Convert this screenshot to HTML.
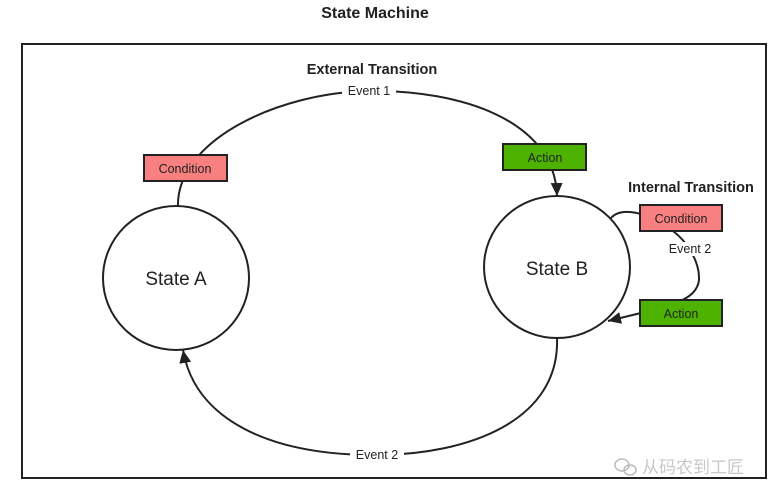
<!DOCTYPE html>
<html><head><style>body{margin:0;background:#fff}svg{display:block}</style></head><body>
<svg width="782" height="503" viewBox="0 0 782 503" xmlns="http://www.w3.org/2000/svg" font-family="Liberation Sans, sans-serif">
<defs><marker id="b" markerWidth="14" markerHeight="14" refX="13" refY="6" orient="auto" markerUnits="userSpaceOnUse"><path d="M0,0 L13,6 L0,12 Z" fill="#222"/></marker></defs>
<text x="375" y="18" font-size="16" font-weight="bold" text-anchor="middle" fill="#222">State Machine</text>
<rect x="22" y="44" width="744" height="434" fill="none" stroke="#222" stroke-width="2"/>
<text x="372" y="74" font-size="14.5" font-weight="bold" text-anchor="middle" fill="#222">External Transition</text>
<text x="691" y="192" font-size="14.5" font-weight="bold" text-anchor="middle" fill="#222">Internal Transition</text>
<path d="M178,208 C175,140 280,92 370,91 C460,90 555,120 557,196" fill="none" stroke="#222" stroke-width="2" marker-end="url(#b)"/>
<path d="M557,338 C560,420 470,455 375,455 C270,455 195,420 183,350" fill="none" stroke="#222" stroke-width="2" marker-end="url(#b)"/>
<rect x="342" y="84" width="54" height="14" fill="#fff"/>
<text x="369" y="95" font-size="12.5" text-anchor="middle" fill="#222">Event 1</text>
<rect x="350" y="448" width="54" height="14" fill="#fff"/>
<text x="377" y="459" font-size="12.5" text-anchor="middle" fill="#222">Event 2</text>
<ellipse cx="176" cy="278" rx="73" ry="72" fill="#fff" stroke="#222" stroke-width="2"/>
<ellipse cx="557" cy="267" rx="73" ry="71" fill="#fff" stroke="#222" stroke-width="2"/>
<text x="176" y="285" font-size="19" text-anchor="middle" fill="#222">State A</text>
<text x="557" y="275" font-size="19" text-anchor="middle" fill="#222">State B</text>
<rect x="144" y="155" width="83" height="26" fill="#f88080" stroke="#222" stroke-width="2"/>
<text x="185" y="173" font-size="12.5" text-anchor="middle" fill="#222">Condition</text>
<rect x="503" y="144" width="83" height="26" fill="#4db300" stroke="#222" stroke-width="2"/>
<text x="545" y="162" font-size="12.5" text-anchor="middle" fill="#222">Action</text>
<path d="M611,218 C618,210 630,211 641,214" fill="none" stroke="#222" stroke-width="2"/>
<path d="M673,231 C685,240 700,260 699,280 C698,290 690,297 680,301" fill="none" stroke="#222" stroke-width="2"/>
<rect x="664" y="242" width="54" height="14" fill="#fff"/>
<text x="690" y="253" font-size="12.5" text-anchor="middle" fill="#222">Event 2</text>
<path d="M641,313 L608,321" fill="none" stroke="#222" stroke-width="2" marker-end="url(#b)"/>
<rect x="640" y="205" width="82" height="26" fill="#f88080" stroke="#222" stroke-width="2"/>
<text x="681" y="223" font-size="12.5" text-anchor="middle" fill="#222">Condition</text>
<rect x="640" y="300" width="82" height="26" fill="#4db300" stroke="#222" stroke-width="2"/>
<text x="681" y="318" font-size="12.5" text-anchor="middle" fill="#222">Action</text>
<g fill="none" stroke="#bbb" stroke-width="1.5"><ellipse cx="622" cy="465" rx="7" ry="6"/><ellipse cx="630" cy="470" rx="6" ry="5"/></g>
<text x="642" y="473" font-size="17" fill="#c8c8c8" font-family="Liberation Sans, Noto Sans CJK SC, sans-serif">从码农到工匠</text>
</svg>
</body></html>
